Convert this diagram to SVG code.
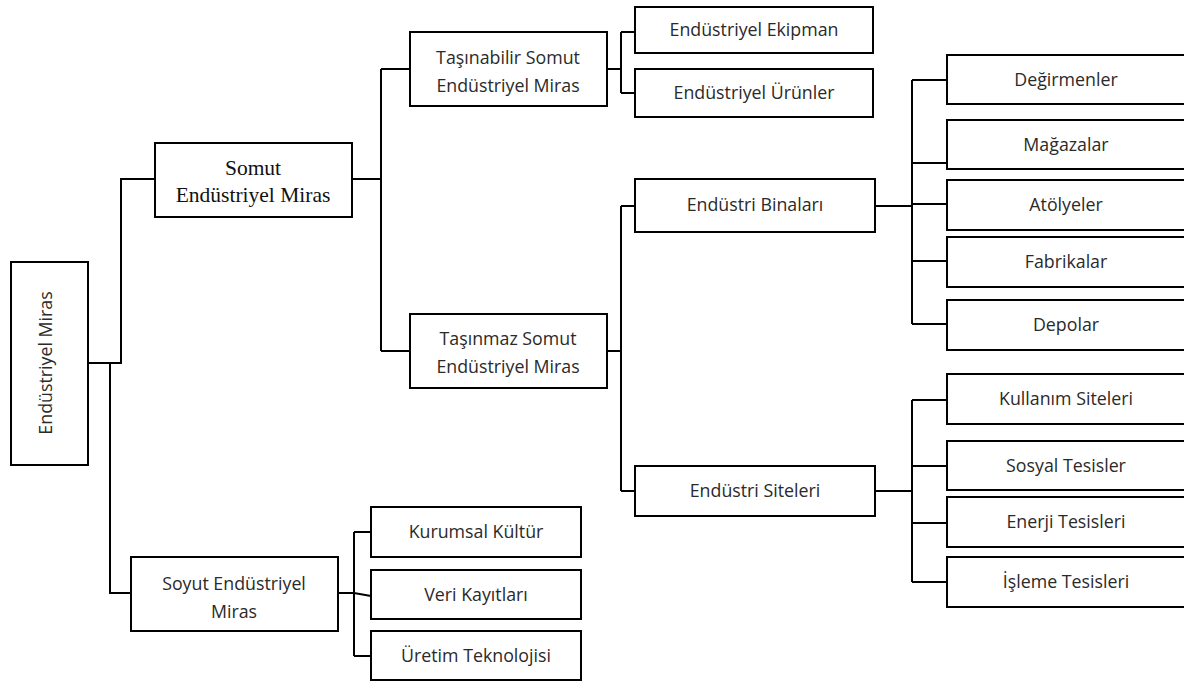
<svg xmlns="http://www.w3.org/2000/svg" width="1184" height="684" viewBox="0 0 1184 684">
<style>
.box{fill:#fff;stroke:#000;stroke-width:2}
.t{font-family:"Open Sans","Noto Sans","Liberation Sans",sans-serif;font-size:17.8px;fill:#2a2a2a;text-anchor:middle}
.s{font-family:"Liberation Serif","Times New Roman",serif;font-size:21.5px;fill:#111;text-anchor:middle}
.c{fill:none;stroke:#000;stroke-width:2}
</style>
<rect width="1184" height="684" fill="#fff"/>
<g id="connectors" class="c">
<path d="M88,363 H121 V179 H155 M110,363 V593 H131"/>
<path d="M352,179 H381 M381,69 V351 M381,69 H410 M381,351 H410"/>
<path d="M607,69 H621 M621,32 V93 M621,32 H635 M621,93 H635"/>
<path d="M607,351 H621 M621,206 V491 M621,206 H635 M621,491 H635"/>
<path d="M875,206 H912 M912,80 V324 M912,80 H947 M912,163 H947 M912,204 H947 M912,261 H947 M912,324 H947"/>
<path d="M875,491 H912 M912,400 V582 M912,400 H947 M912,466 H947 M912,523 H947 M912,582 H947"/>
<path d="M338,593 H354 L371,596 M354,532 V656 M354,532 H371 M354,656 H371"/>
</g>
<g id="root"><rect class="box" x="11" y="262" width="77" height="203"/><text class="t" transform="translate(52,363) rotate(-90)">Endüstriyel Miras</text></g>
<g id="somut"><rect class="box" x="155" y="143" width="197" height="74"/><text class="s" x="253" y="175">Somut</text><text class="s" x="253" y="202">Endüstriyel Miras</text></g>
<g id="tasinabilir"><rect class="box" x="410" y="32" width="197" height="74"/><text class="t" x="508" y="64">Taşınabilir Somut</text><text class="t" x="508" y="92">Endüstriyel Miras</text></g>
<g id="tasinmaz"><rect class="box" x="410" y="314" width="197" height="74"/><text class="t" x="508" y="345">Taşınmaz Somut</text><text class="t" x="508" y="373">Endüstriyel Miras</text></g>
<g id="soyut"><rect class="box" x="131" y="557" width="207" height="74"/><text class="t" x="234" y="590">Soyut Endüstriyel</text><text class="t" x="234" y="618">Miras</text></g>
<g id="ekipman"><rect class="box" x="635" y="7" width="238" height="46"/><text class="t" x="754" y="36">Endüstriyel Ekipman</text></g>
<g id="urunler"><rect class="box" x="635" y="69" width="238" height="48"/><text class="t" x="754" y="99">Endüstriyel Ürünler</text></g>
<g id="binalar"><rect class="box" x="635" y="179" width="240" height="53"/><text class="t" x="755" y="211">Endüstri Binaları</text></g>
<g id="siteleri"><rect class="box" x="635" y="466" width="240" height="50"/><text class="t" x="755" y="497">Endüstri Siteleri</text></g>
<g id="degirmenler"><rect class="box" x="947" y="55" width="245" height="49"/><text class="t" x="1066" y="86">Değirmenler</text></g>
<g id="magazalar"><rect class="box" x="947" y="120" width="245" height="49"/><text class="t" x="1066" y="151">Mağazalar</text></g>
<g id="atolyeler"><rect class="box" x="947" y="180" width="245" height="50"/><text class="t" x="1066" y="211">Atölyeler</text></g>
<g id="fabrikalar"><rect class="box" x="947" y="237" width="245" height="50"/><text class="t" x="1066" y="268">Fabrikalar</text></g>
<g id="depolar"><rect class="box" x="947" y="300" width="245" height="50"/><text class="t" x="1066" y="331">Depolar</text></g>
<g id="kullanim"><rect class="box" x="947" y="374" width="245" height="50"/><text class="t" x="1066" y="405">Kullanım Siteleri</text></g>
<g id="sosyal"><rect class="box" x="947" y="441" width="245" height="49"/><text class="t" x="1066" y="472">Sosyal Tesisler</text></g>
<g id="enerji"><rect class="box" x="947" y="497" width="245" height="50"/><text class="t" x="1066" y="528">Enerji Tesisleri</text></g>
<g id="isleme"><rect class="box" x="947" y="557" width="245" height="50"/><text class="t" x="1066" y="588">İşleme Tesisleri</text></g>
<g id="kurumsal"><rect class="box" x="371" y="507" width="210" height="50"/><text class="t" x="476" y="538">Kurumsal Kültür</text></g>
<g id="veri"><rect class="box" x="371" y="570" width="210" height="49"/><text class="t" x="476" y="601">Veri Kayıtları</text></g>
<g id="uretim"><rect class="box" x="371" y="631" width="210" height="49"/><text class="t" x="476" y="662">Üretim Teknolojisi</text></g>
</svg>
